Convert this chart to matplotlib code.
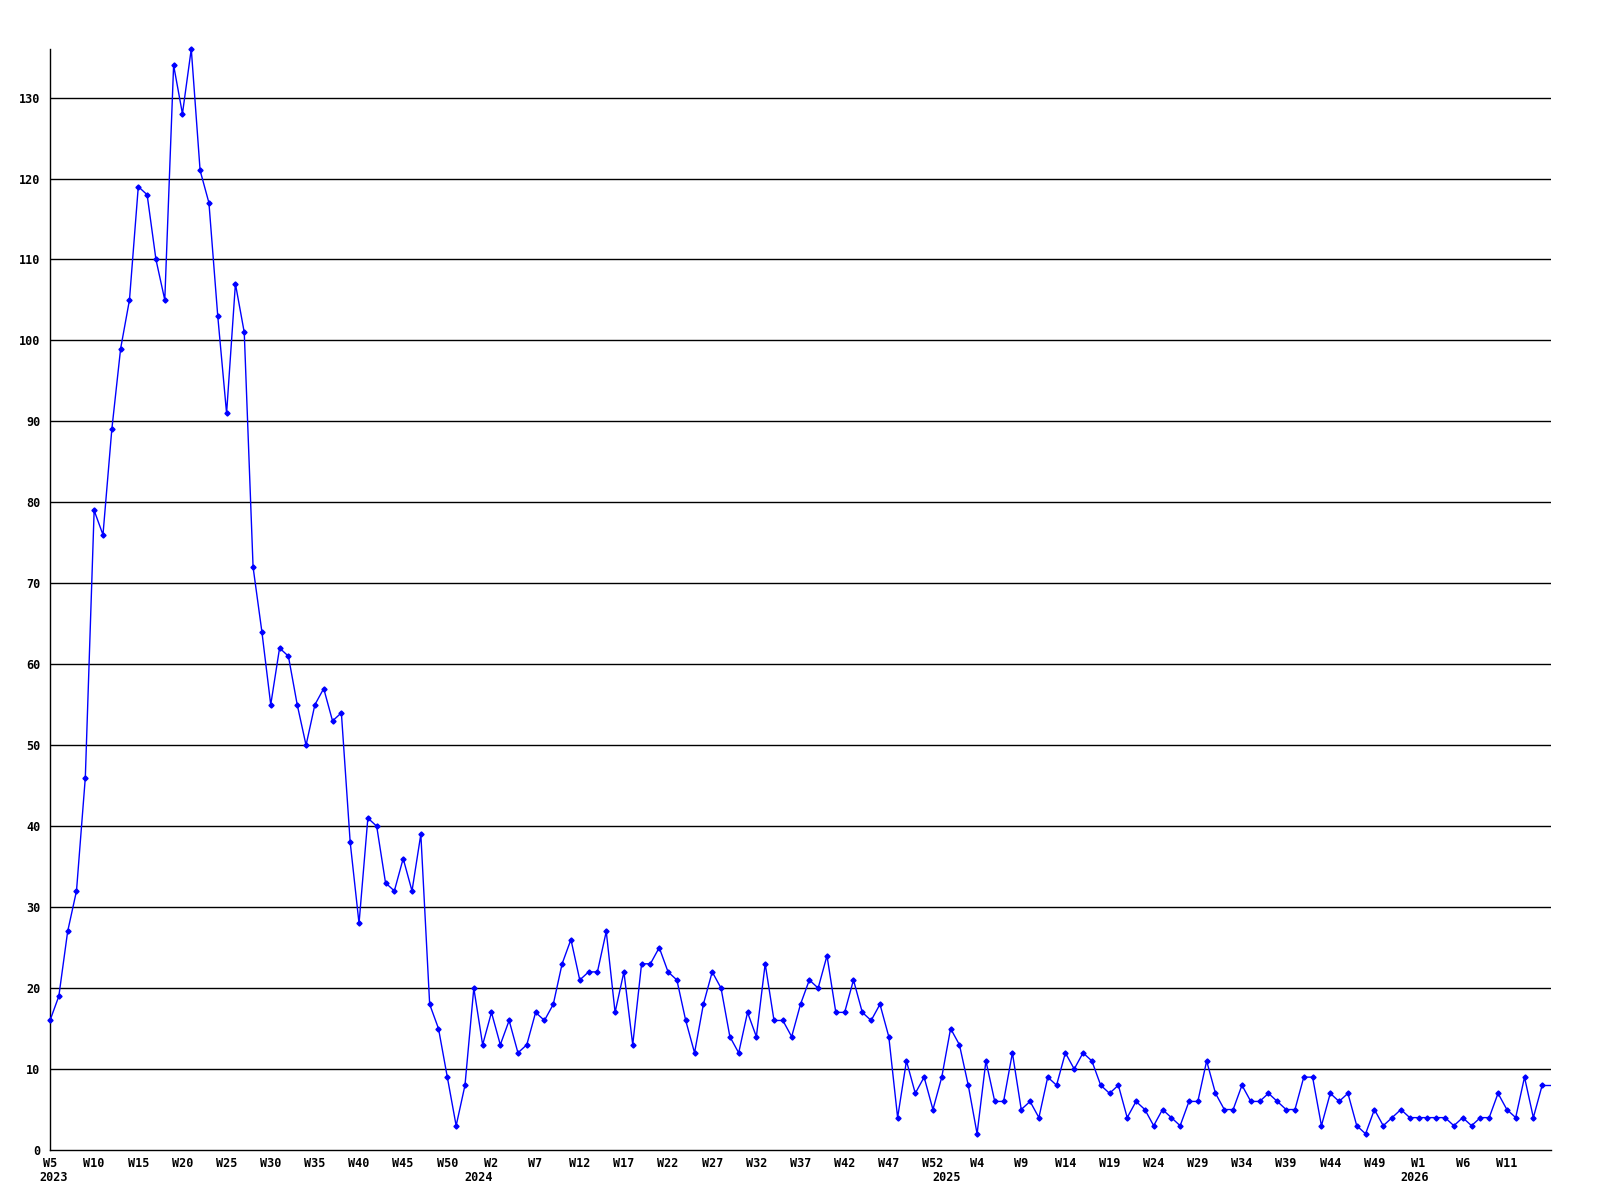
import numpy as np
import matplotlib.pyplot as plt

# weekly counts, 2023 W5 onwards (one value per week)
counts = [
    16, 19, 27, 32, 46, 79, 76, 89, 99, 105,
    119, 118, 110, 105, 134, 128, 136, 121, 117, 103,
    91, 107, 101, 72, 64, 55, 62, 61, 55, 50,
    55, 57, 53, 54, 38, 28, 41, 40, 33, 32,
    36, 32, 39, 18, 15, 9, 3, 8, 20, 13,
    17, 13, 16, 12, 13, 17, 16, 18, 23, 26,
    21, 22, 22, 27, 17, 22, 13, 23, 23, 25,
    22, 21, 16, 12, 18, 22, 20, 14, 12, 17,
    14, 23, 16, 16, 14, 18, 21, 20, 24, 17,
    17, 21, 17, 16, 18, 14, 4, 11, 7, 9,
    5, 9, 15, 13, 8, 2, 11, 6, 6, 12,
    5, 6, 4, 9, 8, 12, 10, 12, 11, 8,
    7, 8, 4, 6, 5, 3, 5, 4, 3, 6,
    6, 11, 7, 5, 5, 8, 6, 6, 7, 6,
    5, 5, 9, 9, 3, 7, 6, 7, 3, 2,
    5, 3, 4, 5, 4, 4, 4, 4, 4, 3,
    4, 3, 4, 4, 7, 5, 4, 9, 4, 8,
    8,
]

week_labels = ['W5', 'W10', 'W15', 'W20', 'W25', 'W30', 'W35', 'W40', 'W45', 'W50',
               'W2', 'W7', 'W12', 'W17', 'W22', 'W27', 'W32', 'W37', 'W42', 'W47', 'W52',
               'W4', 'W9', 'W14', 'W19', 'W24', 'W29', 'W34', 'W39', 'W44', 'W49',
               'W1', 'W6', 'W11']
years = ['2023', '2024', '2025', '2026']
year_pos = [0.4, 48.5, 101.5, 154.5]  # week index where each year begins

x = np.arange(len(counts))

fig = plt.figure(figsize=(16, 12), dpi=100)
ax = fig.add_axes([50 / 1600, 50 / 1200, 1501 / 1600, 1101 / 1200])

for v in range(10, 140, 10):
    ax.axhline(v, color='black', lw=1, zorder=1)

ax.plot(x[:-1], counts[:-1], color='#0000ff', lw=1, marker='D', markersize=2.6,
        zorder=3, clip_on=False)
# last week runs into the right edge, marker cut off there
ax.plot(x[-2:], counts[-2:], color='#0000ff', lw=1, zorder=3)

ax.set_xlim(0, len(counts) - 1)
ax.set_ylim(0, max(counts))

for s in ['top', 'right']:
    ax.spines[s].set_visible(False)
for s in ['left', 'bottom']:
    ax.spines[s].set_color('black')
    ax.spines[s].set_linewidth(1)

font = dict(family='DejaVu Sans Mono', weight='bold', size=8.5)

ax.set_yticks(range(0, 140, 10))
ax.set_yticklabels([str(v) for v in range(0, 140, 10)], **font)
ax.set_xticks(range(0, 5 * len(week_labels), 5))
ax.set_xticklabels(week_labels, **font)
ax.tick_params(axis='y', length=0, pad=7)
ax.tick_params(axis='x', length=0, pad=5)

for yr, pos in zip(years, year_pos):
    ax.annotate(yr, xy=(pos, 0), xycoords='data', xytext=(0, -15),
                textcoords='offset points', ha='center', va='top', **font)

fig.savefig('out.png', dpi=100)
